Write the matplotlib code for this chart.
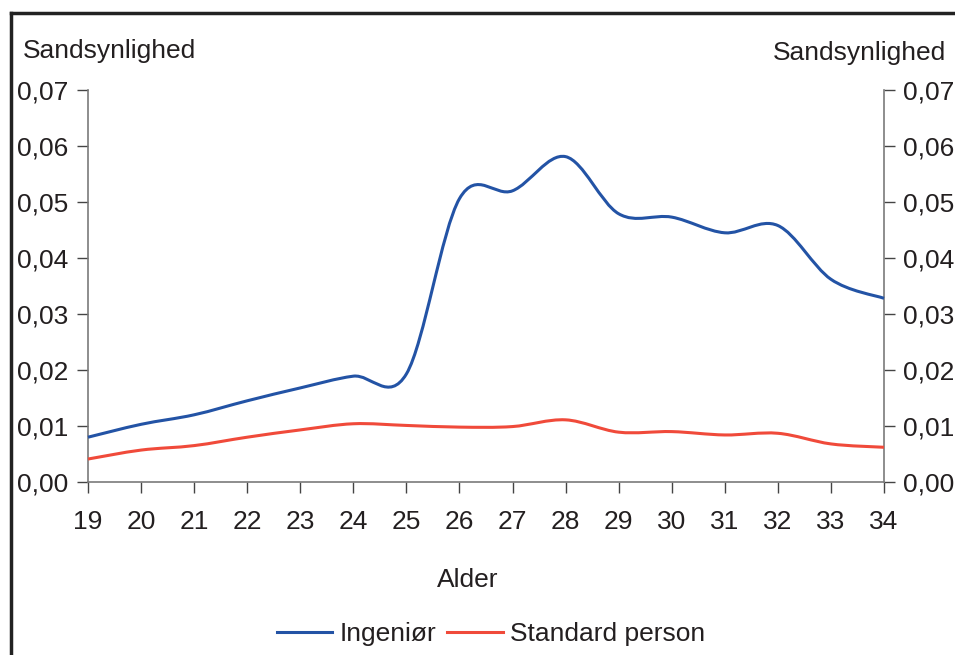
import matplotlib
matplotlib.use("Agg")
import matplotlib.pyplot as plt
from matplotlib.path import Path
from matplotlib.patches import PathPatch
from matplotlib.lines import Line2D
from matplotlib.ticker import FuncFormatter, MultipleLocator

plt.rcParams['font.family'] = ['Liberation Sans', 'DejaVu Sans']

# data
alder = [19, 20, 21, 22, 23, 24, 25, 26, 27, 28, 29, 30, 31, 32, 33, 34]
ingenioer = [0.0080, 0.0103, 0.0120, 0.0145, 0.0168, 0.0189, 0.0193, 0.0506,
             0.0520, 0.0581, 0.0479, 0.0473, 0.0445, 0.0458, 0.0362, 0.0328]
standard = [0.0041, 0.0057, 0.0065, 0.0080, 0.0093, 0.0104, 0.0101, 0.0098,
            0.0099, 0.0111, 0.0089, 0.0090, 0.0084, 0.0087, 0.0068, 0.0062]

BLUE = '#2353a5'
RED = '#f04a3a'
TXT = '#231f20'
FS = 19


def smooth_path(xs, ys):
    """bezier path through the points, spreadsheet-style smoothing"""
    n = len(xs)
    verts = [(xs[0], ys[0])]
    codes = [Path.MOVETO]
    for i in range(n - 1):
        x0, y0 = xs[max(i - 1, 0)], ys[max(i - 1, 0)]
        x1, y1 = xs[i], ys[i]
        x2, y2 = xs[i + 1], ys[i + 1]
        x3, y3 = xs[min(i + 2, n - 1)], ys[min(i + 2, n - 1)]
        c1 = (x1 + (x2 - x0) / 6, y1 + (y2 - y0) / 6)
        c2 = (x2 - (x3 - x1) / 6, y2 - (y3 - y1) / 6)
        verts += [c1, c2, (x2, y2)]
        codes += [Path.CURVE4] * 3
    return Path(verts, codes)


fig = plt.figure(figsize=(9.55, 6.55), dpi=100)
ax = fig.add_axes([88 / 955, 1 - 482 / 655, (884 - 88) / 955, (482 - 90) / 655])

for ys, col in [(ingenioer, BLUE), (standard, RED)]:
    patch = PathPatch(smooth_path(alder, ys), facecolor='none', edgecolor=col,
                      lw=2.2, capstyle='butt', joinstyle='round', zorder=3)
    patch.set_clip_on(False)
    ax.add_patch(patch)

ax.set_xlim(19, 34)
ax.set_ylim(0, 0.07)
ax.xaxis.set_major_locator(MultipleLocator(1))
ax.yaxis.set_major_locator(MultipleLocator(0.01))
ax.yaxis.set_major_formatter(FuncFormatter(lambda v, p: f"{v:.2f}".replace('.', ',')))

ax.spines['top'].set_visible(False)
for side in ['left', 'right', 'bottom']:
    ax.spines[side].set_color('#7a7a7a')
    ax.spines[side].set_linewidth(1.2)

ax.tick_params(axis='both', direction='out', length=8, width=1.0, color='#444444',
               labelsize=FS, labelcolor=TXT)
ax.tick_params(axis='y', left=True, right=True, labelleft=True, labelright=True, pad=6)
ax.tick_params(axis='x', pad=12)

fig.text(23 / 955, 1 - 51 / 655, 'Sandsynlighed', fontsize=FS, color=TXT,
         ha='left', va='center')
fig.text(946 / 955, 1 - 53 / 655, 'Sandsynlighed', fontsize=FS, color=TXT,
         ha='right', va='center')
fig.text(468 / 955, 1 - 580 / 655, 'Alder', fontsize=FS, color=TXT,
         ha='center', va='center')

handles = [Line2D([], [], color=BLUE, lw=2.2), Line2D([], [], color=RED, lw=2.2)]
fig.legend(handles, ['Ingeniør', 'Standard person'], loc='center',
           bbox_to_anchor=(491 / 955, 1 - 634 / 655), ncol=2, frameon=False,
           fontsize=FS, handlelength=2.1, handletextpad=0.27, columnspacing=0.42,
           labelcolor=TXT, borderpad=0)

# outer frame, top and left edges
fig.add_artist(Line2D([11 / 955, 1], [1 - 13 / 655, 1 - 13 / 655],
                      transform=fig.transFigure, color='#222222', lw=2.5))
fig.add_artist(Line2D([11 / 955, 11 / 955], [0, 1 - 13 / 655],
                      transform=fig.transFigure, color='#222222', lw=2.5))

fig.savefig('out.png', dpi=100)
